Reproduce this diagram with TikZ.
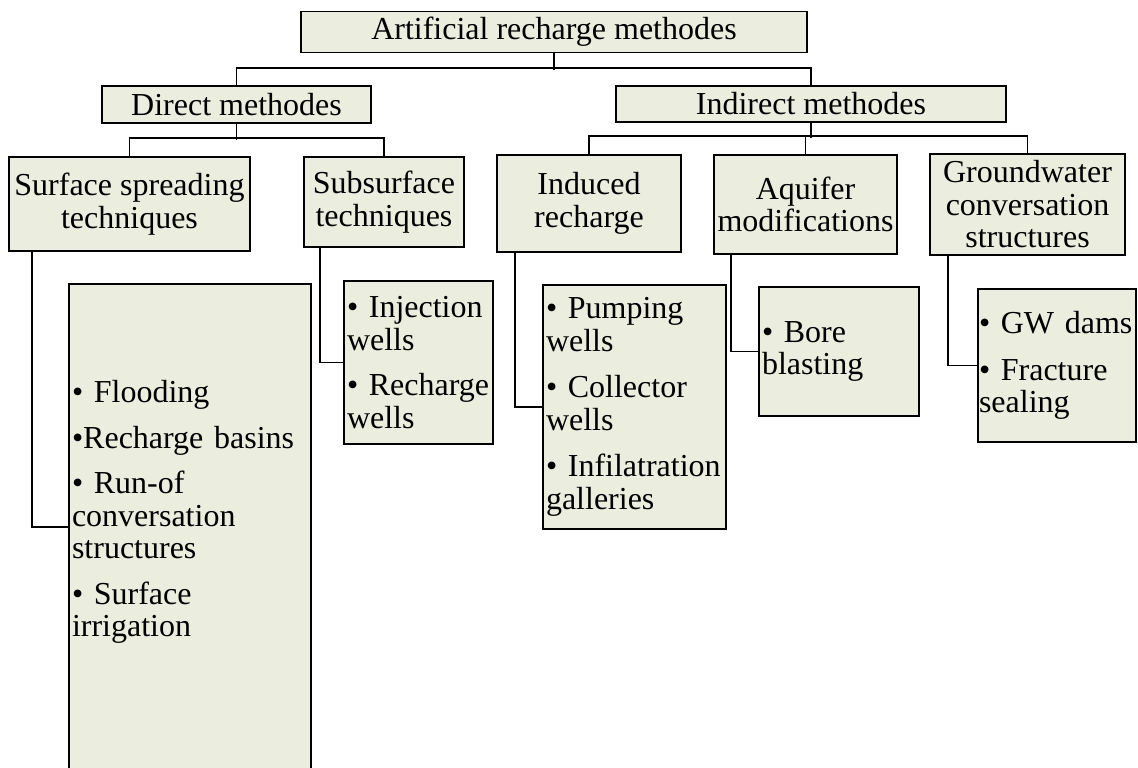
\documentclass[tikz,border=0pt]{standalone}
\usepackage{fontspec}
\setmainfont{Liberation Serif}
\usepackage{xcolor}
\usepackage{tikz}
\usetikzlibrary{positioning,calc}
\definecolor{boxfill}{RGB}{235,238,222}

\begin{document}
\begin{tikzpicture}[x=1pt,y=-1pt,line width=1.8pt,font=\fontsize{32}{32.5}\selectfont,
  head/.style={draw,fill=boxfill,align=center,inner sep=0pt},
  lst/.style={draw,fill=boxfill,align=left,inner sep=3pt}]
\useasboundingbox (0,0) rectangle (1138,768);
% method levels
\node[head,minimum width=506,minimum height=41] (top) at (554,32) {Artificial recharge methodes};
\node[head,minimum width=269,minimum height=37] (direct) at (236.5,104.5) {Direct methodes};
\node[head,minimum width=390,minimum height=36] (indirect) at (811,104) {Indirect methodes};
\node[head,minimum width=241,minimum height=94] (surf) at (129.5,204) {Surface spreading\\techniques};
\node[head,minimum width=160,minimum height=90] (subs) at (384,202) {Subsurface\\techniques};
\node[head,minimum width=184,minimum height=97] (ind) at (589,203.5) {Induced\\recharge};
\node[head,minimum width=183,minimum height=99] (aqf) at (805.5,204.5) {Aquifer\\modifications};
\node[head,minimum width=195,minimum height=101] (gw) at (1027.5,204.5) {Groundwater\\conversation\\structures};
% lists
\node[lst,text width=236,minimum height=486] (surflist) at (190,527) {• Flooding\\[13pt]•Recharge basins\\[13pt]• Run-of\\conversation\\structures\\[13pt]• Surface\\irrigation\\[4pt]~};
\node[lst,text width=143,minimum height=163] (sublist) at (418.5,362.5) {• Injection\\wells\\[13pt]• Recharge\\wells};
\node[lst,text width=177,minimum height=244] (indlist) at (634.5,407) {• Pumping\\wells\\[14pt]• Collector\\wells\\[14pt]• Infilatration\\galleries};
\node[lst,text width=154,minimum height=129] (aqlist) at (839,351.5) {• Bore\\blasting};
\node[lst,inner sep=1pt,text width=156,minimum height=153] (gwlist) at (1057,365.5) {• GW~dams\\[14pt]• Fracture\\sealing};
% tree lines
\draw (top.south) -- ++(0,17);
\draw (direct.north) -- ++(0,-17) -| (indirect.north);
\draw (direct.south) -- ++(0,16);
\draw (surf.north) -- ++(0,-18) -| (subs.north);
\draw (indirect.south) -- ++(0,15);
\draw (ind.north) -- ++(0,-18) -| (gw.north);
\draw (aqf.north) -- ++(0,-18);
\draw ($(surf.south west)+(24,0)$) |- (surflist.west);
\draw ($(subs.south west)+(17,0)$) |- (sublist.west);
\draw ($(ind.south west)+(19,0)$) |- (indlist.west);
\draw ($(aqf.south west)+(18,0)$) |- (aqlist.west);
\draw ($(gw.south west)+(19,0)$) |- (gwlist.west);
\end{tikzpicture}
\end{document}
